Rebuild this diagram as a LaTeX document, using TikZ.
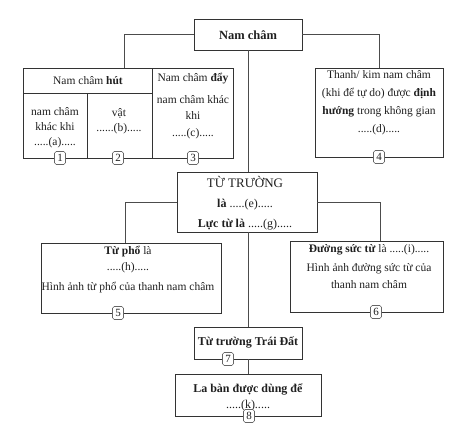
\documentclass[tikz,border=0pt]{standalone}
\usepackage{fontspec}
\setmainfont{Liberation Serif}
\begin{document}
\begin{tikzpicture}[x=1pt,y=-1pt,
  box/.style={draw=black!80, line width=0.8pt, inner sep=0pt, outer sep=0pt},
  conn/.style={draw=black!70, line width=0.8pt},
  txt/.style={align=center, inner sep=0pt, text=black!88, font=\fontsize{11.5}{15}\selectfont},
  num/.style={draw=black!60, fill=white, rounded corners=1.8pt, line width=0.6pt, inner sep=0.8pt,
    minimum width=11pt, minimum height=13pt, text=black!88, font=\fontsize{11}{11}\selectfont}]
\useasboundingbox (0,0) rectangle (465,432);
% boxes
\node[box, minimum width=108pt, minimum height=31pt] (title) at (248,34.5) {};
\node[box, minimum width=129pt, minimum height=25pt] (hut) at (87.5,80.5) {};
\node[box, minimum width=64pt, minimum height=65pt] (b1) at (55,125.5) {};
\node[box, minimum width=65pt, minimum height=65pt] (b2) at (119.5,125.5) {};
\node[box, minimum width=81pt, minimum height=90pt] (b3) at (192.5,113) {};
\node[box, minimum width=128pt, minimum height=89pt] (b4) at (379,112.5) {};
\node[box, minimum width=140pt, minimum height=60pt] (tt) at (247,202) {};
\node[box, minimum width=180pt, minimum height=70pt] (b5) at (131,278) {};
\node[box, minimum width=153pt, minimum height=71pt] (b6) at (366.5,276.5) {};
\node[box, minimum width=108pt, minimum height=32pt] (b7) at (248,343) {};
\node[box, minimum width=146pt, minimum height=42pt] (b8) at (248,395) {};
% connectors
\draw[conn] (title.west) -| ([xshift=36.5pt]hut.north);
\draw[conn] (title.east) -| (b4.north);
\draw[conn] (title.south) -- (title.south |- tt.north);
\draw[conn] (tt.west) -| ([xshift=-6pt]b5.north);
\draw[conn] (tt.east) -| ([xshift=13.5pt]b6.north);
\draw[conn] (b7.north |- tt.south) -- (b7.north);
\draw[conn] (b7.south) -- (b8.north);
% texts
\node[txt, font=\fontsize{12.5}{15}\selectfont\bfseries] (ttitle) at (248,35) {Nam châm};
\node[txt] (thut) at (88,81) {Nam châm \textbf{hút}};
\node[txt] (t1) at (55,128) {nam châm\\khác khi\\.....(a).....};
\node[txt] (t2) at (119,121) {vật\\......(b).....};
\node[txt, font=\fontsize{11.5}{16.5}\selectfont] (t3) at (193,106) {Nam châm \textbf{đẩy}\\[5pt]nam châm khác\\khi\\.....(c).....};
\node[txt, font=\fontsize{11.5}{18}\selectfont] (t4) at (379,102.5) {Thanh/ kim nam châm\\(khi để tự do) được \textbf{định}\\\textbf{hướng} trong không gian\\.....(d).....};
\node[txt, font=\fontsize{12}{20}\selectfont] (ttt) at (245,203) {{\fontsize{13}{20}\selectfont TỪ TRƯỜNG}\\\textbf{là} .....(e).....\\\textbf{Lực từ là} .....(g).....};
\node[txt, font=\fontsize{11.5}{16}\selectfont] (t5) at (128,270) {\textbf{Từ phổ} là\\.....(h).....\\[4pt]Hình ảnh từ phổ của thanh nam châm};
\node[txt, font=\fontsize{11.5}{17}\selectfont] (t6) at (369,267) {\textbf{Đường sức từ} là .....(i).....\\[2pt]Hình ảnh đường sức từ của\\thanh nam châm};
\node[txt, font=\fontsize{12}{15}\selectfont\bfseries] (t7) at (248,342) {Từ trường Trái Đất};
\node[txt, font=\fontsize{12}{16}\selectfont] (t8) at (248,397) {\textbf{La bàn được dùng để}\\.....(k).....};
% numbers
\node[num] (n1) at (60,158) {1};
\node[num] (n2) at (118,158) {2};
\node[num] (n3) at (193,158) {3};
\node[num] (n4) at (379,157) {4};
\node[num] (n5) at (118,313) {5};
\node[num] (n6) at (376,312) {6};
\node[num] (n7) at (228,359) {7};
\node[num] (n8) at (249,416) {8};
\end{tikzpicture}
\end{document}
